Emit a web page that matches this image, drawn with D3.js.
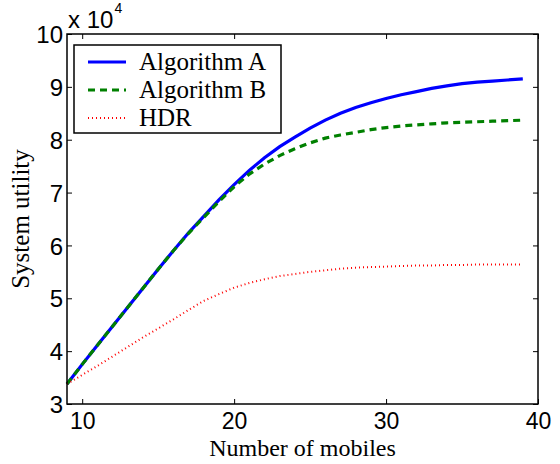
<!DOCTYPE html>
<html>
<head>
<meta charset="utf-8">
<script src="https://cdn.jsdelivr.net/npm/d3@7"></script>
<style>
html, body { margin: 0; padding: 0; background: #fff; }
svg { display: block; }
.sans { font-family: "Liberation Sans", Arial, Helvetica, sans-serif; }
.serif { font-family: "Liberation Serif", "Times New Roman", Times, serif; }
</style>
</head>
<body>
<svg id="chart" width="560" height="464"></svg>
<script>
const mobiles = [9,10,11,12,13,14,15,16,17,18,19,20,21,22,23,24,25,26,27,28,29,30,31,32,33,34,35,36,37,38,39];
const algorithmA = [3.38,3.75,4.11,4.47,4.83,5.19,5.55,5.90,6.24,6.55,6.86,7.15,7.42,7.66,7.87,8.05,8.22,8.37,8.50,8.61,8.70,8.78,8.85,8.91,8.97,9.02,9.06,9.09,9.11,9.13,9.15];
const algorithmB = [3.38,3.75,4.11,4.47,4.83,5.19,5.55,5.90,6.23,6.53,6.83,7.11,7.35,7.54,7.70,7.83,7.94,8.03,8.09,8.14,8.19,8.23,8.26,8.28,8.30,8.32,8.33,8.34,8.35,8.36,8.37];
const hdr = [3.38,3.55,3.72,3.90,4.08,4.26,4.43,4.60,4.78,4.95,5.08,5.20,5.29,5.36,5.42,5.46,5.50,5.53,5.56,5.58,5.59,5.60,5.61,5.62,5.62,5.63,5.63,5.64,5.64,5.64,5.64];
const xTicks = [10,20,30,40];
const yTicks = [3,4,5,6,7,8,9,10];
const seriesNames = ["Algorithm A","Algorithm B","HDR"];
const xLabel = "Number of mobiles";
const yLabel = "System utility";

const svg = d3.select("#chart");
const L = 67, R = 538, T = 34, B = 404;
const x = d3.scaleLinear().domain([9,40]).range([L,R]);
const y = d3.scaleLinear().domain([3,10]).range([B,T]);

const series = [
  {name: seriesNames[0], values: algorithmA, color: "#0000ff", width: 3.2, dash: null},
  {name: seriesNames[1], values: algorithmB, color: "#008000", width: 3.2, dash: "7,5"},
  {name: seriesNames[2], values: hdr, color: "#ff0000", width: 2, dash: "1,3"}
];

const line = d3.line().x((d,i)=>x(mobiles[i])).y(d=>y(d));

svg.append("g").selectAll("path").data(series).join("path")
  .attr("d", d=>line(d.values))
  .attr("fill","none")
  .attr("stroke", d=>d.color)
  .attr("stroke-width", d=>d.width)
  .attr("stroke-dasharray", d=>d.dash);

// axes (ticks inward, box)
const axB = svg.append("g").attr("transform",`translate(0,${B})`)
  .call(d3.axisBottom(x).tickValues(xTicks).tickSize(-5).tickFormat(d3.format("d")));
const axT = svg.append("g").attr("transform",`translate(0,${T})`)
  .call(d3.axisTop(x).tickValues(xTicks).tickSize(-5).tickFormat(""));
const axL = svg.append("g").attr("transform",`translate(${L},0)`)
  .call(d3.axisLeft(y).tickValues(yTicks).tickSize(-5).tickFormat(d3.format("d")));
const axR = svg.append("g").attr("transform",`translate(${R},0)`)
  .call(d3.axisRight(y).tickValues(yTicks).tickSize(-5).tickFormat(""));
[axB,axT,axL,axR].forEach(a=>{
  a.attr("font-family",null).attr("font-size",null);
  a.select(".domain").remove();
  a.selectAll(".tick line").attr("stroke","#000").attr("stroke-width",1);
  a.selectAll("text").attr("class","sans").style("font-size","23px").attr("fill","#000");
});
axL.selectAll("text").style("font-size","24px");
axB.selectAll("text").attr("dy",null).attr("y",25);
axL.selectAll("text").attr("dy","0.36em").attr("x",-4);

svg.append("rect").attr("x",L).attr("y",T).attr("width",R-L).attr("height",B-T)
  .attr("fill","none").attr("stroke","#000").attr("stroke-width",1.5);

// exponent
const ex = svg.append("text").attr("class","sans").attr("x",68).attr("y",28).style("font-size","24px").attr("fill","#000");
ex.append("tspan").text("x 10");
ex.append("tspan").style("font-size","14px").attr("dy",-15).attr("dx",1).text("4");

// labels
svg.append("text").attr("class","serif").attr("x",(L+R)/2).attr("y",456).attr("text-anchor","middle")
  .style("font-size","24px").text(xLabel);
svg.append("text").attr("class","serif").attr("transform",`translate(29,${(T+B)/2}) rotate(-90)`).attr("text-anchor","middle")
  .style("font-size","25px").text(yLabel);

// legend
const lg = svg.append("g");
lg.append("rect").attr("x",74).attr("y",45).attr("width",207).attr("height",88)
  .attr("fill","#fff").attr("stroke","#000").attr("stroke-width",1.5);
series.forEach((s,i)=>{
  const yy = 62 + i*28;
  lg.append("line").attr("x1",88).attr("x2",126).attr("y1",yy).attr("y2",yy)
    .attr("stroke",s.color).attr("stroke-width",s.width).attr("stroke-dasharray",s.dash);
  lg.append("text").attr("class","serif").attr("x",139).attr("y",yy+8).style("font-size","25px").text(s.name);
});
</script>
</body>
</html>
